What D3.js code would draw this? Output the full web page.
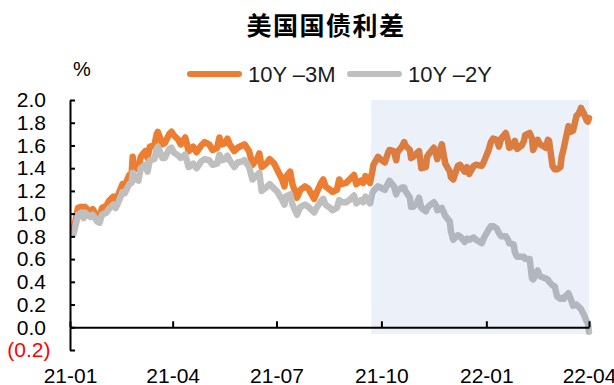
<!DOCTYPE html>
<html><head><meta charset="utf-8">
<script src="https://cdn.jsdelivr.net/npm/d3@7"></script>
<style>
html,body{margin:0;padding:0;background:#fff;}
svg{display:block;font-family:"Liberation Sans",Arial,sans-serif;}
</style></head>
<body>
<svg id="chart" width="614" height="385"></svg>
<script>
const title = "美国国债利差";
const unitLabel = "%";
const seriesNames = ["10Y –3M", "10Y –2Y"];
const seriesColors = ["#ED7D31", "#BFBFBF"];
const dates = [
"2021-01-04","2021-01-06","2021-01-08","2021-01-11","2021-01-13","2021-01-14","2021-01-19","2021-01-21","2021-01-25","2021-01-27","2021-01-29",
"2021-02-02","2021-02-04","2021-02-08","2021-02-10","2021-02-12","2021-02-16","2021-02-18","2021-02-22","2021-02-24","2021-02-25","2021-02-26",
"2021-03-02","2021-03-04","2021-03-08","2021-03-10","2021-03-12","2021-03-16","2021-03-18","2021-03-19","2021-03-23","2021-03-25","2021-03-29","2021-03-31",
"2021-04-02","2021-04-06","2021-04-08","2021-04-12","2021-04-15","2021-04-19","2021-04-22","2021-04-26","2021-04-29",
"2021-05-03","2021-05-06","2021-05-10","2021-05-12","2021-05-14","2021-05-17","2021-05-19","2021-05-21","2021-05-25","2021-05-28",
"2021-06-01","2021-06-03","2021-06-07","2021-06-10","2021-06-14","2021-06-16","2021-06-18","2021-06-22","2021-06-25","2021-06-29",
"2021-07-02","2021-07-06","2021-07-08","2021-07-09","2021-07-13","2021-07-15","2021-07-19","2021-07-22","2021-07-26","2021-07-29",
"2021-08-03","2021-08-05","2021-08-09","2021-08-11","2021-08-13","2021-08-17","2021-08-19","2021-08-23","2021-08-25","2021-08-27","2021-08-31",
"2021-09-03","2021-09-07","2021-09-09","2021-09-13","2021-09-15","2021-09-17","2021-09-21","2021-09-23","2021-09-24","2021-09-28","2021-09-30",
"2021-10-04","2021-10-07","2021-10-08","2021-10-12","2021-10-14","2021-10-15","2021-10-19","2021-10-21","2021-10-22","2021-10-26","2021-10-27","2021-10-29",
"2021-11-01","2021-11-03","2021-11-05","2021-11-09","2021-11-10","2021-11-12","2021-11-16","2021-11-18","2021-11-19","2021-11-23","2021-11-26","2021-11-30",
"2021-12-01","2021-12-03","2021-12-07","2021-12-09","2021-12-13","2021-12-15","2021-12-17","2021-12-21","2021-12-23","2021-12-28","2021-12-30",
"2022-01-03","2022-01-05","2022-01-07","2022-01-10","2022-01-12","2022-01-14","2022-01-18","2022-01-20","2022-01-21","2022-01-25","2022-01-26","2022-01-28",
"2022-02-01","2022-02-03","2022-02-04","2022-02-08","2022-02-10","2022-02-11","2022-02-15","2022-02-17","2022-02-22","2022-02-24","2022-02-25","2022-02-28",
"2022-03-02","2022-03-04","2022-03-07","2022-03-08","2022-03-10","2022-03-11","2022-03-14","2022-03-16","2022-03-18","2022-03-21","2022-03-23","2022-03-25","2022-03-28","2022-03-30","2022-03-31","2022-04-01"
];
const spread10y3m = [
0.84,0.95,1.05,1.06,1.02,1.06,1.01,1.04,0.97,0.96,1.05,
1.07,1.11,1.15,1.11,1.16,1.26,1.25,1.34,1.35,1.50,1.41,
1.39,1.50,1.55,1.49,1.59,1.60,1.70,1.72,1.61,1.62,1.70,1.72,
1.69,1.65,1.61,1.67,1.55,1.59,1.54,1.60,1.63,
1.61,1.56,1.58,1.67,1.61,1.62,1.66,1.61,1.55,1.58,
1.60,1.61,1.55,1.43,1.48,1.53,1.41,1.44,1.48,1.44,
1.38,1.30,1.24,1.32,1.37,1.26,1.14,1.21,1.24,1.22,
1.13,1.18,1.27,1.30,1.24,1.21,1.19,1.21,1.30,1.26,1.27,
1.30,1.34,1.26,1.29,1.27,1.33,1.27,1.37,1.43,1.50,1.48,
1.45,1.54,1.56,1.55,1.47,1.54,1.59,1.63,1.60,1.56,1.49,1.50,
1.53,1.55,1.40,1.41,1.50,1.53,1.58,1.52,1.48,1.61,1.44,1.37,
1.32,1.30,1.42,1.43,1.37,1.41,1.35,1.42,1.43,1.42,1.46,
1.56,1.63,1.66,1.65,1.59,1.66,1.71,1.64,1.58,1.60,1.64,1.57,
1.60,1.64,1.69,1.71,1.66,1.56,1.65,1.61,1.58,1.65,1.64,1.42,
1.39,1.39,1.41,1.50,1.58,1.63,1.77,1.72,1.73,1.86,1.88,1.93,1.87,1.82,1.81,1.84
];
const spread10y2y = [
0.82,0.90,0.99,1.01,0.96,1.01,0.97,0.99,0.93,0.92,0.99,
1.01,1.04,1.08,1.05,1.09,1.19,1.18,1.26,1.27,1.36,1.31,
1.29,1.40,1.43,1.37,1.47,1.48,1.57,1.59,1.49,1.49,1.57,1.58,
1.54,1.51,1.49,1.52,1.41,1.44,1.40,1.46,1.48,
1.47,1.43,1.44,1.52,1.47,1.48,1.51,1.47,1.41,1.45,
1.46,1.47,1.41,1.30,1.34,1.36,1.20,1.23,1.26,1.22,
1.19,1.12,1.08,1.15,1.17,1.08,0.99,1.06,1.08,1.06,
1.01,1.05,1.11,1.13,1.08,1.05,1.03,1.05,1.12,1.10,1.10,
1.12,1.16,1.09,1.12,1.10,1.15,1.09,1.18,1.20,1.24,1.23,
1.21,1.27,1.29,1.24,1.17,1.20,1.23,1.23,1.20,1.14,1.06,1.06,
1.09,1.14,1.05,1.02,1.05,1.07,1.10,1.07,1.03,1.05,0.98,0.93,
0.84,0.77,0.81,0.80,0.75,0.78,0.77,0.79,0.77,0.74,0.79,
0.86,0.89,0.89,0.87,0.83,0.80,0.80,0.77,0.74,0.73,0.66,0.62,
0.62,0.62,0.60,0.60,0.43,0.42,0.50,0.45,0.43,0.42,0.40,0.37,
0.36,0.27,0.25,0.26,0.25,0.27,0.30,0.25,0.19,0.20,0.18,0.16,0.10,0.05,0.04,-0.04
];
const yTicks = [-0.2,0,0.2,0.4,0.6,0.8,1.0,1.2,1.4,1.6,1.8,2.0];
const xTickDates = ["2021-01-01","2021-04-01","2021-07-01","2021-10-01","2022-01-01","2022-04-01"];
const xTickLabels = ["21-01","21-04","21-07","21-10","22-01","22-04"];
const shadeStart = "2021-09-22";
const shadeEnd = "2022-04-01";
const shadeTop = 2.0, shadeBottom = -0.06;

const parse = d3.timeParse("%Y-%m-%d");
const svg = d3.select("#chart");

const x = d3.scaleTime().domain([parse("2021-01-01"), parse("2022-04-01")]).range([70, 589]);
const y = d3.scaleLinear().domain([-0.2, 2.0]).range([350, 100]);

// title
svg.append("text").attr("x", 326).attr("y", 35).attr("text-anchor", "middle")
  .style("font-family", '"Noto Sans CJK SC", sans-serif').style("font-weight", "bold")
  .style("font-size", "25px").style("letter-spacing", "1.5px").attr("fill", "#000").text(title);

// unit
svg.append("text").attr("x", 73).attr("y", 76).style("font-size", "20px").attr("fill", "#000").text(unitLabel);

// legend
const legendX = [187, 347];
seriesNames.forEach((name, i) => {
  svg.append("line").attr("x1", legendX[i] + 3).attr("x2", legendX[i] + 52).attr("y1", 74).attr("y2", 74)
    .attr("stroke", seriesColors[i]).attr("stroke-width", 6).attr("stroke-linecap", "round");
  svg.append("text").attr("x", legendX[i] + 61).attr("y", 82).style("font-size", "22px").attr("fill", "#1a1a1a").text(name);
});

// lines
const line = d3.line().x((d, i) => x(parse(dates[i]))).y(d => y(d));
[spread10y3m, spread10y2y].forEach((vals, i) => {
  svg.append("path").datum(vals).attr("d", line).attr("fill", "none")
    .attr("stroke", seriesColors[i]).attr("stroke-width", 6.5)
    .attr("stroke-linejoin", "round").attr("stroke-linecap", "round");
});

// shading overlay
svg.append("rect")
  .attr("x", x(parse(shadeStart))).attr("width", x(parse(shadeEnd)) - x(parse(shadeStart)))
  .attr("y", y(shadeTop)).attr("height", y(shadeBottom) - y(shadeTop))
  .attr("fill", "#4472C4").attr("fill-opacity", 0.1);

// y axis
const yAxis = d3.axisLeft(y).tickValues(yTicks).tickSizeInner(-5).tickSizeOuter(0).tickPadding(24)
  .tickFormat(v => v < 0 ? "(" + d3.format(".1f")(-v) + ")" : d3.format(".1f")(v));
const gy = svg.append("g").attr("transform", "translate(70,0)").call(yAxis);
gy.select(".domain").attr("stroke", "#000").attr("stroke-width", 2);
gy.selectAll(".tick line").attr("stroke", "#000").attr("stroke-width", 2);
gy.selectAll(".tick text").style("font-size", "21px").style("font-family", '"Liberation Sans",Arial,sans-serif')
  .attr("fill", v => v < 0 ? "#FF0000" : "#000")
  .attr("x", v => v < 0 ? -19.5 : -24);

// x axis at zero
const xAxis = d3.axisBottom(x).tickValues(xTickDates.map(parse)).tickSizeInner(-6).tickSizeOuter(0).tickPadding(41)
  .tickFormat((d, i) => xTickLabels[i]);
const gx = svg.append("g").attr("transform", `translate(0,${y(0)})`).call(xAxis);
gx.select(".domain").attr("stroke", "#000").attr("stroke-width", 2);
gx.selectAll(".tick line").attr("stroke", "#000").attr("stroke-width", 2);
gx.selectAll(".tick text").style("font-size", "21px").style("font-family", '"Liberation Sans",Arial,sans-serif').attr("fill", "#000");
</script>
</body></html>
